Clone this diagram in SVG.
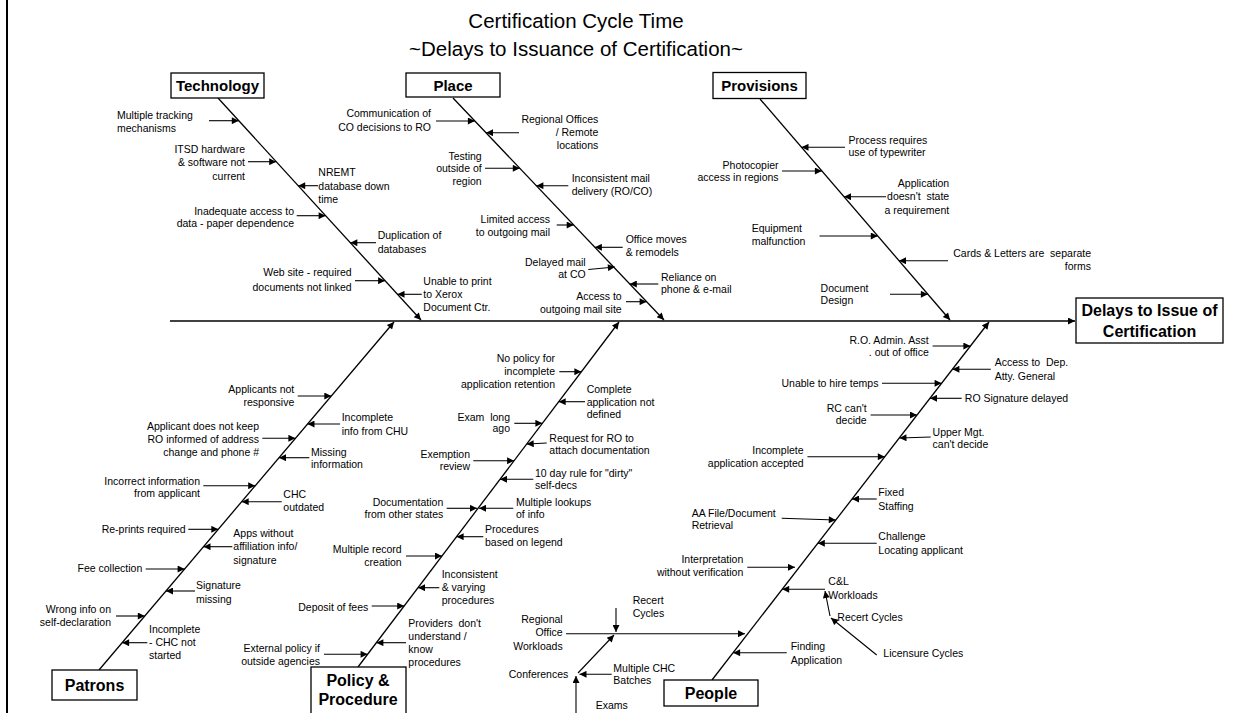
<svg xmlns="http://www.w3.org/2000/svg" width="1248" height="713" viewBox="0 0 1248 713">
<style>
.t{font-family:"Liberation Sans",Arial,sans-serif;font-size:10.5px;fill:#000}
.e{text-anchor:end}
.bx{fill:#fff;stroke:#000;stroke-width:1.3}
.bt{font-family:"Liberation Sans",Arial,sans-serif;font-weight:bold;text-anchor:middle;fill:#000}
.ti{font-family:"Liberation Sans",Arial,sans-serif;font-size:20.5px;text-anchor:middle;fill:#000}
#conn line{stroke:#000;stroke-width:1.1;fill:none}
#conn .a{marker-end:url(#ah)}
#conn .bone{stroke-width:1.3}
#conn .sp{stroke-width:1.6}
</style>
<defs>
<marker id="ah" viewBox="0 0 10 10" refX="10" refY="5" markerWidth="9" markerHeight="7" markerUnits="userSpaceOnUse" orient="auto"><path d="M0,0 L10,5 L0,10 z" fill="#000"/></marker>
</defs>
<rect x="0" y="0" width="1248" height="713" fill="#fff"/>
<line x1="7" y1="0" x2="7" y2="713" stroke="#000" stroke-width="2"/>
<g id="title">
<text class="ti" x="576" y="28">Certification Cycle Time</text>
<text class="ti" x="576" y="56">~Delays to Issuance of Certification~</text>
</g>
<g id="conn">
<line class="a sp" x1="170" y1="321" x2="1075" y2="321"/>
<line class="a bone" x1="218" y1="98" x2="421" y2="320"/>
<line class="a bone" x1="453" y1="98" x2="664" y2="320"/>
<line class="a bone" x1="760" y1="99" x2="950" y2="320"/>
<line class="a bone" x1="99" y1="670" x2="394" y2="322"/>
<line class="a bone" x1="358" y1="667" x2="619" y2="322"/>
<line class="a bone" x1="712" y1="680" x2="989" y2="322"/>
<line class="a" x1="209" y1="120.7" x2="238.8" y2="120.7"/>
<line class="a" x1="248" y1="161.7" x2="276.2" y2="161.7"/>
<line class="a" x1="318" y1="185.7" x2="298.2" y2="185.7"/>
<line class="a" x1="296.7" y1="215.7" x2="325.6" y2="215.7"/>
<line class="a" x1="376" y1="242.7" x2="350.3" y2="242.7"/>
<line class="a" x1="355" y1="280.7" x2="385.1" y2="280.7"/>
<line class="a" x1="421.7" y1="294.3" x2="397.5" y2="294.3"/>
<line class="a" x1="436" y1="121" x2="474.9" y2="121"/>
<line class="a" x1="519" y1="132.7" x2="486" y2="132.7"/>
<line class="a" x1="485" y1="168.3" x2="519.8" y2="168.3"/>
<line class="a" x1="568.3" y1="185.7" x2="536.4" y2="185.7"/>
<line class="a" x1="556.7" y1="225" x2="573.7" y2="225"/>
<line class="a" x1="622.7" y1="247.3" x2="594.9" y2="247.3"/>
<line class="a" x1="588.3" y1="269.5" x2="614.9" y2="267"/>
<line class="a" x1="658.3" y1="284" x2="629.8" y2="284"/>
<line class="a" x1="626" y1="301.7" x2="646.6" y2="301.7"/>
<line class="a" x1="845" y1="147.3" x2="801.5" y2="147.3"/>
<line class="a" x1="782" y1="171" x2="821.9" y2="171"/>
<line class="a" x1="886" y1="196.7" x2="844" y2="196.7"/>
<line class="a" x1="819.5" y1="236" x2="877.8" y2="236"/>
<line class="a" x1="948" y1="260.7" x2="899" y2="260.7"/>
<line class="a" x1="890" y1="294.3" x2="927.9" y2="294.3"/>
<line class="a" x1="297.7" y1="396" x2="331.3" y2="396"/>
<line class="a" x1="340" y1="424" x2="307.5" y2="424"/>
<line class="a" x1="262.3" y1="438.3" x2="295.4" y2="438.3"/>
<line class="a" x1="309.3" y1="457.7" x2="279" y2="457.7"/>
<line class="a" x1="203.3" y1="485.7" x2="255.2" y2="485.7"/>
<line class="a" x1="281.7" y1="501.7" x2="241.7" y2="501.7"/>
<line class="a" x1="188.3" y1="529.3" x2="218.3" y2="529.3"/>
<line class="a" x1="232.3" y1="546.7" x2="203.5" y2="546.7"/>
<line class="a" x1="145.7" y1="569" x2="184.6" y2="569"/>
<line class="a" x1="195" y1="591" x2="166" y2="591"/>
<line class="a" x1="116" y1="616" x2="144.8" y2="616"/>
<line class="a" x1="147.3" y1="642.7" x2="122.1" y2="642.7"/>
<line class="a" x1="559.3" y1="371.7" x2="581.4" y2="371.7"/>
<line class="a" x1="585" y1="401.7" x2="558.7" y2="401.7"/>
<line class="a" x1="514.3" y1="423.3" x2="542.4" y2="423.3"/>
<line class="a" x1="546.7" y1="443" x2="526.7" y2="444"/>
<line class="a" x1="473.3" y1="460.7" x2="514.1" y2="460.7"/>
<line class="a" x1="533.3" y1="479.3" x2="500" y2="479.3"/>
<line class="a" x1="446.7" y1="508.3" x2="477" y2="508.3"/>
<line class="a" x1="513.3" y1="508.3" x2="479" y2="508.3"/>
<line class="a" x1="483.3" y1="536.7" x2="456.6" y2="536.7"/>
<line class="a" x1="406" y1="556" x2="442" y2="556"/>
<line class="a" x1="439.3" y1="587.7" x2="418" y2="587.7"/>
<line class="a" x1="371.7" y1="606" x2="404.2" y2="606"/>
<line class="a" x1="406" y1="642.7" x2="376.4" y2="642.7"/>
<line class="a" x1="324" y1="654.3" x2="367.6" y2="654.3"/>
<line class="a" x1="932.6" y1="346" x2="970.4" y2="346"/>
<line class="a" x1="990.8" y1="369.3" x2="952.4" y2="369.3"/>
<line class="a" x1="882" y1="383.3" x2="941.6" y2="383.3"/>
<line class="a" x1="961.7" y1="398.3" x2="930" y2="398.3"/>
<line class="a" x1="870.6" y1="415" x2="917" y2="415"/>
<line class="a" x1="930.7" y1="437" x2="899.5" y2="438"/>
<line class="a" x1="807.4" y1="456.7" x2="884.8" y2="456.7"/>
<line class="a" x1="876.7" y1="499" x2="852" y2="499"/>
<line class="a" x1="781.7" y1="518.3" x2="835.8" y2="520"/>
<line class="a" x1="876.7" y1="543.3" x2="817.8" y2="543.3"/>
<line class="a" x1="747.3" y1="567.3" x2="795" y2="567.3"/>
<line class="a" x1="825" y1="589.3" x2="782.2" y2="589.3"/>
<line class="a" x1="566" y1="633.7" x2="745" y2="633.7"/>
<line class="a" x1="786.7" y1="652.7" x2="733.1" y2="652.7"/>
<line class="a" x1="830" y1="616" x2="825" y2="591"/>
<line class="a" x1="876.7" y1="655" x2="831" y2="618"/>
<line class="a" x1="616" y1="608" x2="616" y2="632"/>
<line class="a" x1="578" y1="673" x2="614" y2="635"/>
<line class="a" x1="611.7" y1="674.3" x2="579.5" y2="674.3"/>
<line class="a" x1="576" y1="713" x2="576" y2="676"/>
</g>
<g id="effect"><rect class="bx" x="1076" y="298" width="147" height="45"/><text class="bt" font-size="16" x="1149.5" y="316">Delays to Issue of</text><text class="bt" font-size="16" x="1149.5" y="336.5">Certification</text></g>
<g id="technology"><rect class="bx" x="171" y="73" width="93" height="25"/><text class="bt" font-size="15" x="217.5" y="91">Technology</text></g>
<g id="place"><rect class="bx" x="406" y="73" width="94" height="24"/><text class="bt" font-size="15" x="453" y="90.5">Place</text></g>
<g id="provisions"><rect class="bx" x="713" y="72.5" width="93" height="26"/><text class="bt" font-size="15" x="759.5" y="91">Provisions</text></g>
<g id="patrons"><rect class="bx" x="52" y="670" width="85" height="30"/><text class="bt" font-size="16" x="94.5" y="691">Patrons</text></g>
<g id="policy"><rect class="bx" x="311" y="667" width="95" height="52"/><text class="bt" font-size="16" x="358" y="686">Policy &amp;</text><text class="bt" font-size="16" x="358" y="705">Procedure</text></g>
<g id="people"><rect class="bx" x="664" y="680" width="94" height="26"/><text class="bt" font-size="16" x="711" y="699">People</text></g>
<g id="tech-causes">
<text class="t" x="117" y="119">Multiple tracking<tspan x="117" dy="13.3">mechanisms</tspan></text>
<text class="t e" x="245" y="153">ITSD hardware<tspan x="245" dy="13.3">&amp; software not</tspan><tspan x="245" dy="13.3">current</tspan></text>
<text class="t" x="318.3" y="176">NREMT<tspan x="318.3" dy="13.5">database down</tspan><tspan x="318.3" dy="13.5">time</tspan></text>
<text class="t e" x="294" y="214.5">Inadequate access to<tspan x="294" dy="12.7">data - paper dependence</tspan></text>
<text class="t" x="377.7" y="239">Duplication of<tspan x="377.7" dy="14">databases</tspan></text>
<text class="t e" x="351.7" y="276">Web site - required<tspan x="351.7" dy="15">documents not linked</tspan></text>
<text class="t" x="423.3" y="285">Unable to print<tspan x="423.3" dy="12.8">to Xerox</tspan><tspan x="423.3" dy="12.8">Document Ctr.</tspan></text>
</g>
<g id="place-causes">
<text class="t e" x="431" y="117">Communication of<tspan x="431" dy="14.3">CO decisions to RO</tspan></text>
<text class="t e" x="598.3" y="123">Regional Offices<tspan x="598.3" dy="12.8">/ Remote</tspan><tspan x="598.3" dy="12.8">locations</tspan></text>
<text class="t e" x="481.7" y="159.5">Testing<tspan x="481.7" dy="12.7">outside of</tspan><tspan x="481.7" dy="12.7">region</tspan></text>
<text class="t" x="571.7" y="182">Inconsistent mail<tspan x="571.7" dy="12.7">delivery (RO/CO)</tspan></text>
<text class="t e" x="550" y="222.5">Limited access<tspan x="550" dy="13.7">to outgoing mail</tspan></text>
<text class="t" x="625.7" y="243">Office moves<tspan x="625.7" dy="12.7">&amp; remodels</tspan></text>
<text class="t e" x="585.7" y="265.5">Delayed mail<tspan x="585.7" dy="12.7">at CO</tspan></text>
<text class="t" x="661" y="280.5">Reliance on<tspan x="661" dy="12.7">phone &amp; e-mail</tspan></text>
<text class="t e" x="621.7" y="299.5">Access to<tspan x="621.7" dy="13.7">outgoing mail site</tspan></text>
</g>
<g id="provisions-causes">
<text class="t" x="848.5" y="144">Process requires<tspan x="848.5" dy="12.3">use of typewriter</tspan></text>
<text class="t e" x="778.6" y="169">Photocopier<tspan x="778.6" dy="12.3">access in regions</tspan></text>
<text class="t e" x="949.2" y="187" xml:space="preserve">Application<tspan x="949.2" dy="13.3">doesn't  state</tspan><tspan x="949.2" dy="13.3">a requirement</tspan></text>
<text class="t" x="751.7" y="232">Equipment<tspan x="751.7" dy="13.3">malfunction</tspan></text>
<text class="t e" x="1091" y="256.5" xml:space="preserve">Cards &amp; Letters are  separate<tspan x="1091" dy="13.3">forms</tspan></text>
<text class="t" x="820.6" y="291.5">Document<tspan x="820.6" dy="12.3">Design</tspan></text>
</g>
<g id="patrons-causes">
<text class="t e" x="294.3" y="393">Applicants not<tspan x="294.3" dy="13.3">responsive</tspan></text>
<text class="t" x="341.7" y="420.5">Incomplete<tspan x="341.7" dy="14">info from CHU</tspan></text>
<text class="t e" x="259" y="429.5">Applicant does not keep<tspan x="259" dy="13.3">RO informed of address</tspan><tspan x="259" dy="13.3">change and phone #</tspan></text>
<text class="t" x="311" y="456">Missing<tspan x="311" dy="12">information</tspan></text>
<text class="t e" x="200" y="484.5">Incorrect information<tspan x="200" dy="12">from applicant</tspan></text>
<text class="t" x="283.3" y="498">CHC<tspan x="283.3" dy="13.3">outdated</tspan></text>
<text class="t e" x="185.7" y="533">Re-prints required</text>
<text class="t" x="233.3" y="536.5">Apps without<tspan x="233.3" dy="13.7">affiliation info/</tspan><tspan x="233.3" dy="13.7">signature</tspan></text>
<text class="t e" x="142.3" y="572">Fee collection</text>
<text class="t" x="196" y="589">Signature<tspan x="196" dy="14">missing</tspan></text>
<text class="t e" x="111" y="613">Wrong info on<tspan x="111" dy="13.3">self-declaration</tspan></text>
<text class="t" x="149" y="633">Incomplete<tspan x="149" dy="13.2">- CHC not</tspan><tspan x="149" dy="13.2">started</tspan></text>
</g>
<g id="policy-causes">
<text class="t e" x="555" y="362">No policy for<tspan x="555" dy="13">incomplete</tspan><tspan x="555" dy="13">application retention</tspan></text>
<text class="t" x="586.7" y="393">Complete<tspan x="586.7" dy="12.5">application not</tspan><tspan x="586.7" dy="12.5">defined</tspan></text>
<text class="t e" x="510" y="420.5" xml:space="preserve">Exam  long<tspan x="510" dy="11.7">ago</tspan></text>
<text class="t" x="549.3" y="441.5">Request for RO to<tspan x="549.3" dy="12.3">attach documentation</tspan></text>
<text class="t e" x="470" y="458">Exemption<tspan x="470" dy="12">review</tspan></text>
<text class="t" x="535" y="477">10 day rule for "dirty"<tspan x="535" dy="11.7">self-decs</tspan></text>
<text class="t e" x="443.3" y="505.5">Documentation<tspan x="443.3" dy="12.3">from other states</tspan></text>
<text class="t" x="516" y="505.5">Multiple lookups<tspan x="516" dy="12.3">of info</tspan></text>
<text class="t" x="485" y="533">Procedures<tspan x="485" dy="13">based on legend</tspan></text>
<text class="t e" x="401.7" y="553">Multiple record<tspan x="401.7" dy="13.3">creation</tspan></text>
<text class="t" x="441.7" y="578">Inconsistent<tspan x="441.7" dy="12.8">&amp; varying</tspan><tspan x="441.7" dy="12.8">procedures</tspan></text>
<text class="t e" x="368.3" y="610.5">Deposit of fees</text>
<text class="t" x="408.3" y="626.5" xml:space="preserve">Providers  don't<tspan x="408.3" dy="13.3">understand /</tspan><tspan x="408.3" dy="13.3">know</tspan><tspan x="408.3" dy="13.3">procedures</tspan></text>
<text class="t e" x="320" y="651.5">External policy if<tspan x="320" dy="13.3">outside agencies</tspan></text>
</g>
<g id="people-causes">
<text class="t e" x="928.8" y="344">R.O. Admin. Asst<tspan x="928.8" dy="11.7">. out of office</tspan></text>
<text class="t" x="994.7" y="365.5" xml:space="preserve">Access to  Dep.<tspan x="994.7" dy="14">Atty. General</tspan></text>
<text class="t e" x="878.4" y="386.5">Unable to hire temps</text>
<text class="t" x="964.8" y="402">RO Signature delayed</text>
<text class="t e" x="866.7" y="412">RC can't<tspan x="866.7" dy="12.3">decide</tspan></text>
<text class="t" x="932.6" y="436">Upper Mgt.<tspan x="932.6" dy="12">can't decide</tspan></text>
<text class="t e" x="803.6" y="454">Incomplete<tspan x="803.6" dy="13.3">application accepted</tspan></text>
<text class="t" x="878.3" y="496">Fixed<tspan x="878.3" dy="13.7">Staffing</tspan></text>
<text class="t" x="691.7" y="516.5">AA File/Document<tspan x="691.7" dy="12.3">Retrieval</tspan></text>
<text class="t" x="878.3" y="540">Challenge<tspan x="878.3" dy="14">Locating applicant</tspan></text>
<text class="t e" x="743.3" y="563">Interpretation<tspan x="743.3" dy="13.3">without verification</tspan></text>
<text class="t" x="828.3" y="585">C&amp;L<tspan x="828.3" dy="14">Workloads</tspan></text>
<text class="t" x="837.3" y="620.5">Recert Cycles</text>
<text class="t" x="883.3" y="657">Licensure Cycles</text>
<text class="t" x="632.7" y="604">Recert<tspan x="632.7" dy="13.3">Cycles</tspan></text>
<text class="t e" x="562.7" y="623">Regional<tspan x="562.7" dy="13.3">Office</tspan><tspan x="562.7" dy="13.3">Workloads</tspan></text>
<text class="t e" x="568.3" y="678">Conferences</text>
<text class="t" x="613.3" y="672">Multiple CHC<tspan x="613.3" dy="11.7">Batches</tspan></text>
<text class="t" x="595.7" y="709">Exams</text>
<text class="t" x="790.7" y="650">Finding<tspan x="790.7" dy="14">Application</tspan></text>
</g>
</svg>
